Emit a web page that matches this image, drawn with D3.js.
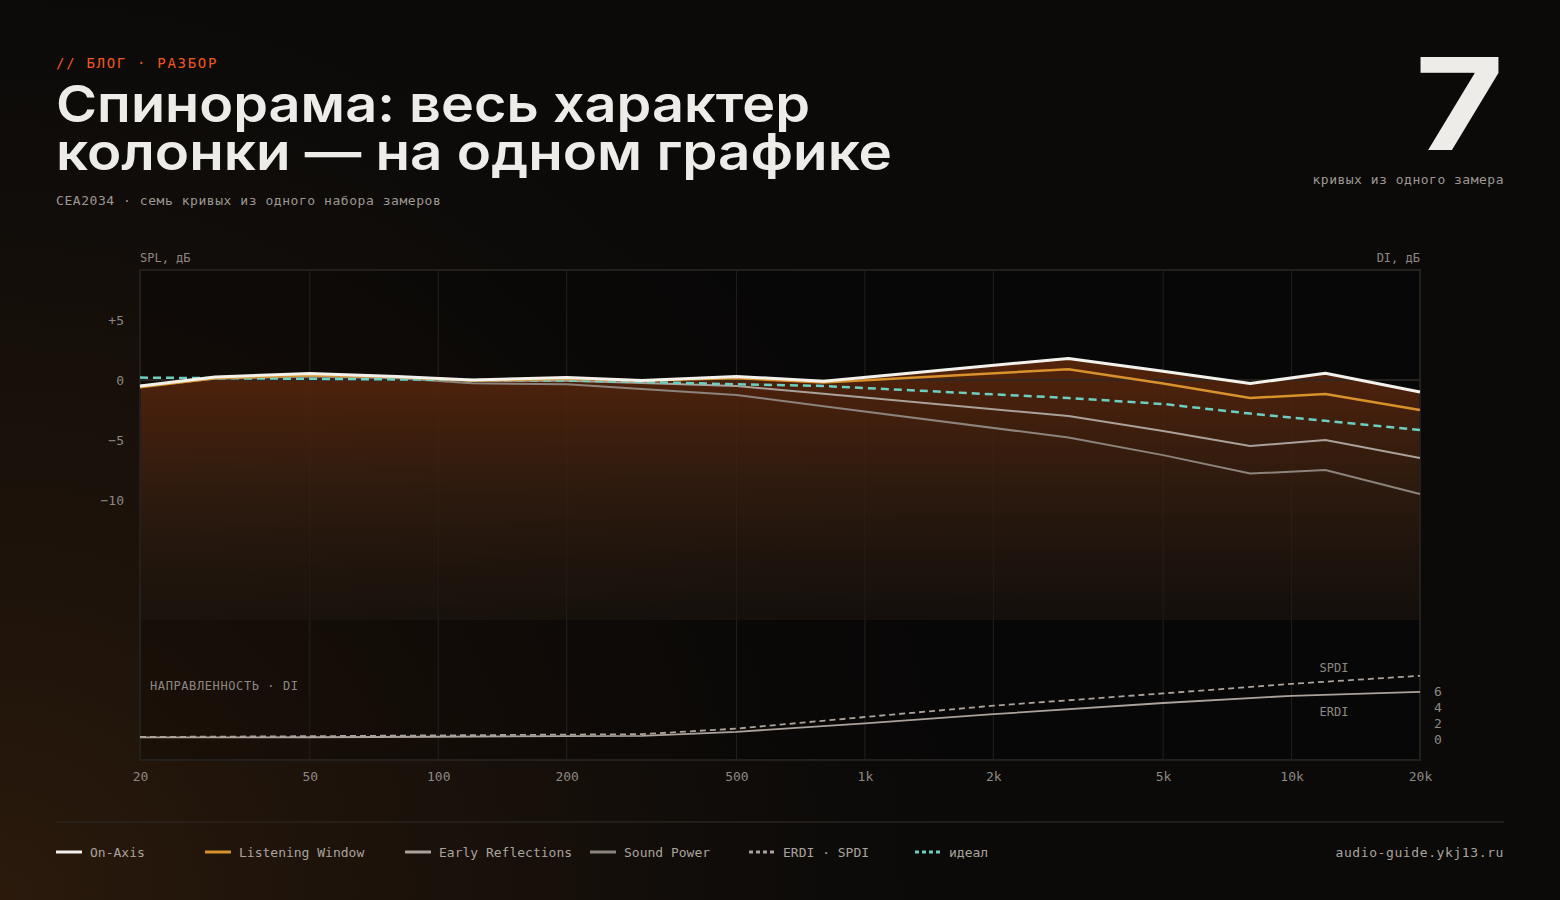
<!DOCTYPE html>
<html lang="ru">
<head>
<meta charset="UTF-8">
<title>Спинорама</title>
<script src="https://cdn.jsdelivr.net/npm/d3@7"></script>
<style>
  html, body { margin: 0; padding: 0; background: #0b0a09; }
  svg { display: block; }
  .mono { font-family: "DejaVu Sans Mono", "Liberation Mono", monospace; }
</style>
</head>
<body>
<script>
// частоты и кривые (дБ)
var freqs = [20, 30, 50, 80, 120, 200, 300, 500, 800, 3000, 5000, 8000, 12000, 20000];
var onAxis = [-0.5, 0.25, 0.55, 0.3, 0.0, 0.2, -0.05, 0.3, -0.1, 1.8, 0.72, -0.3, 0.56, -1.0];
var listeningWindow = [-0.6, 0.15, 0.4, 0.25, -0.05, 0.1, -0.05, 0.15, -0.2, 0.9, -0.3, -1.5, -1.17, -2.5];
var earlyReflections = [-0.5, 0.15, 0.35, 0.2, -0.05, -0.06, -0.25, -0.5, -1.15, -3.0, -4.25, -5.5, -5.0, -6.5];
var soundPower = [-0.55, 0.1, 0.3, 0.15, -0.28, -0.36, -0.75, -1.25, -2.18, -4.8, -6.26, -7.8, -7.5, -9.5];
var ideal = [0.2, 0.15, 0.1, 0.05, 0.0, -0.05, -0.15, -0.36, -0.5, -1.5, -2.0, -2.8, -3.4, -4.17];

var diFreqs = [20, 50, 100, 200, 300, 500, 1000, 2000, 5000, 10000, 20000];
var erdi = [0.2, 0.22, 0.28, 0.35, 0.4, 0.9, 1.96, 3.1, 4.5, 5.4, 5.9];
var spdi = [0.25, 0.35, 0.45, 0.55, 0.6, 1.3, 2.75, 4.16, 5.7, 6.9, 7.9];

var xTicks = [20, 50, 100, 200, 500, 1000, 2000, 5000, 10000, 20000];
var xTickLabels = ['20', '50', '100', '200', '500', '1k', '2k', '5k', '10k', '20k'];
var splTicks = [5, 0, -5, -10];
var diTicks = [0, 2, 4, 6];

var width = 1560, height = 900;
var svg = d3.select('body').append('svg')
    .attr('width', width)
    .attr('height', height);

var defs = svg.append('defs');
var bg = defs.append('radialGradient')
    .attr('id', 'bgGlow')
    .attr('gradientUnits', 'userSpaceOnUse')
    .attr('cx', 0).attr('cy', 900).attr('r', 1050);
bg.append('stop').attr('offset', 0).attr('stop-color', '#2b1a0c').attr('stop-opacity', 1);
bg.append('stop').attr('offset', 0.55).attr('stop-color', '#1a110a').attr('stop-opacity', 0.7);
bg.append('stop').attr('offset', 1).attr('stop-color', '#0b0a09').attr('stop-opacity', 0);

var fillGrad = defs.append('linearGradient')
    .attr('id', 'areaFill')
    .attr('gradientUnits', 'userSpaceOnUse')
    .attr('x1', 0).attr('y1', 355).attr('x2', 0).attr('y2', 620);
fillGrad.append('stop').attr('offset', 0).attr('stop-color', '#5a250b').attr('stop-opacity', 0.95);
fillGrad.append('stop').attr('offset', 0.45).attr('stop-color', '#3a2010').attr('stop-opacity', 0.8);
fillGrad.append('stop').attr('offset', 1).attr('stop-color', '#1d1610').attr('stop-opacity', 0.55);

svg.append('rect').attr('width', width).attr('height', height).attr('fill', '#0b0a09');
svg.append('rect').attr('width', width).attr('height', height).attr('fill', 'url(#bgGlow)');

// шапка
svg.append('text').attr('class', 'mono')
    .attr('x', 56).attr('y', 68)
    .attr('fill', '#f0571d').attr('font-size', 14).attr('letter-spacing', 1.7)
    .text('// БЛОГ · РАЗБОР');

var titleFont = 'Inter, "Noto Sans", sans-serif';
svg.append('text')
    .attr('x', 56).attr('y', 122)
    .attr('font-family', titleFont).attr('font-weight', 600).attr('font-size', 51)
    .attr('fill', '#edece8')
    .attr('textLength', 754).attr('lengthAdjust', 'spacingAndGlyphs')
    .text('Спинорама: весь характер');
svg.append('text')
    .attr('x', 56).attr('y', 170)
    .attr('font-family', titleFont).attr('font-weight', 600).attr('font-size', 51)
    .attr('fill', '#edece8')
    .attr('textLength', 836).attr('lengthAdjust', 'spacingAndGlyphs')
    .text('колонки — на одном графике');

svg.append('text').attr('class', 'mono')
    .attr('x', 56).attr('y', 205)
    .attr('fill', '#9d9892').attr('font-size', 13).attr('letter-spacing', 0.55)
    .text('CEA2034 · семь кривых из одного набора замеров');

svg.append('text')
    .attr('x', 1415).attr('y', 150)
    .attr('font-family', titleFont).attr('font-weight', 700).attr('font-size', 128)
    .attr('fill', '#edece8')
    .attr('textLength', 89).attr('lengthAdjust', 'spacingAndGlyphs')
    .text('7');
svg.append('text').attr('class', 'mono')
    .attr('x', 1504).attr('y', 184).attr('text-anchor', 'end')
    .attr('fill', '#9d9892').attr('font-size', 13).attr('letter-spacing', 0.5)
    .text('кривых из одного замера');

// шкалы
var pLeft = 140, pRight = 1420, pTop = 270, pBottom = 760;
var x = d3.scaleLog().domain([20, 20000]).range([pLeft, pRight]);
var y = d3.scaleLinear().domain([-20, 0]).range([620, 380]);
var yDi = d3.scaleLinear().domain([0, 6]).range([739, 691]);

var plot = svg.append('g');
plot.append('rect')
    .attr('x', pLeft).attr('y', pTop)
    .attr('width', pRight - pLeft).attr('height', pBottom - pTop)
    .attr('fill', 'rgba(0,0,0,0.22)');

// вертикальная сетка
plot.selectAll('.vgrid')
    .data(xTicks.slice(1, -1))
    .enter().append('line')
    .attr('class', 'vgrid')
    .attr('x1', function (d) { return x(d); })
    .attr('x2', function (d) { return x(d); })
    .attr('y1', pTop).attr('y2', pBottom)
    .attr('stroke', '#24201d').attr('stroke-width', 1);

// заливка под осевой АЧХ
var area = d3.area()
    .x(function (d) { return x(d[0]); })
    .y0(y(-20))
    .y1(function (d) { return y(d[1]); });
plot.append('path')
    .datum(d3.zip(freqs, onAxis))
    .attr('d', area)
    .attr('fill', 'url(#areaFill)');

// линия 0 дБ
plot.append('line')
    .attr('x1', pLeft).attr('x2', pRight)
    .attr('y1', y(0)).attr('y2', y(0))
    .attr('stroke', '#2e2a26').attr('stroke-width', 1.5);

// рамка
plot.append('rect')
    .attr('x', pLeft).attr('y', pTop)
    .attr('width', pRight - pLeft).attr('height', pBottom - pTop)
    .attr('fill', 'none').attr('stroke', '#221f1c').attr('stroke-width', 2);

var line = d3.line()
    .x(function (d) { return x(d[0]); })
    .y(function (d) { return y(d[1]); });
var diLine = d3.line()
    .x(function (d) { return x(d[0]); })
    .y(function (d) { return yDi(d[1]); });

var curves = [
    {values: soundPower, color: '#8c837c', w: 2, dash: null},
    {values: earlyReflections, color: '#a9a19a', w: 2, dash: null},
    {values: ideal, color: '#6ccfc0', w: 2.5, dash: '8,5'},
    {values: listeningWindow, color: '#d8922c', w: 2.5, dash: null},
    {values: onAxis, color: '#f3f1ec', w: 3, dash: null}
];
plot.selectAll('.curve')
    .data(curves)
    .enter().append('path')
    .attr('class', 'curve')
    .attr('d', function (d) { return line(d3.zip(freqs, d.values)); })
    .attr('fill', 'none')
    .attr('stroke', function (d) { return d.color; })
    .attr('stroke-width', function (d) { return d.w; })
    .attr('stroke-dasharray', function (d) { return d.dash; })
    .attr('stroke-linejoin', 'round');

// индексы направленности
plot.append('path')
    .attr('d', diLine(d3.zip(diFreqs, erdi)))
    .attr('fill', 'none').attr('stroke', '#aaa29b').attr('stroke-width', 1.8);
plot.append('path')
    .attr('d', diLine(d3.zip(diFreqs, spdi)))
    .attr('fill', 'none').attr('stroke', '#aaa29b').attr('stroke-width', 1.8)
    .attr('stroke-dasharray', '6,4');

// оси
var axisText = function (g) {
    g.select('.domain').remove();
    g.selectAll('.tick line').remove();
    g.selectAll('.tick text')
        .attr('fill', '#8d8882')
        .attr('font-family', '"DejaVu Sans Mono", monospace')
        .attr('font-size', 13);
};

svg.append('g')
    .attr('transform', 'translate(0,' + pBottom + ')')
    .call(d3.axisBottom(x).tickValues(xTicks).tickSize(0).tickPadding(12)
        .tickFormat(function (d, i) { return xTickLabels[i]; }))
    .call(axisText);

svg.append('g')
    .attr('transform', 'translate(' + pLeft + ',0)')
    .call(d3.axisLeft(y).tickValues(splTicks).tickSize(0).tickPadding(16)
        .tickFormat(function (d) { return d > 0 ? '+' + d : (d < 0 ? '\u2212' + Math.abs(d) : '0'); }))
    .call(axisText);

svg.append('g')
    .attr('transform', 'translate(' + pRight + ',0)')
    .call(d3.axisRight(yDi).tickValues(diTicks).tickSize(0).tickPadding(14)
        .tickFormat(d3.format('d')))
    .call(axisText);

svg.append('text').attr('class', 'mono')
    .attr('x', pLeft).attr('y', 262)
    .attr('fill', '#8d8882').attr('font-size', 12)
    .text('SPL, дБ');
svg.append('text').attr('class', 'mono')
    .attr('x', pRight).attr('y', 262).attr('text-anchor', 'end')
    .attr('fill', '#8d8882').attr('font-size', 12)
    .text('DI, дБ');
svg.append('text').attr('class', 'mono')
    .attr('x', 150).attr('y', 690)
    .attr('fill', '#8d8882').attr('font-size', 12).attr('letter-spacing', 0.6)
    .text('НАПРАВЛЕННОСТЬ · DI');
svg.append('text').attr('class', 'mono')
    .attr('x', 1334).attr('y', 672).attr('text-anchor', 'middle')
    .attr('fill', '#8d8882').attr('font-size', 12)
    .text('SPDI');
svg.append('text').attr('class', 'mono')
    .attr('x', 1334).attr('y', 716).attr('text-anchor', 'middle')
    .attr('fill', '#8d8882').attr('font-size', 12)
    .text('ERDI');

// легенда
svg.append('line')
    .attr('x1', 56).attr('x2', 1504).attr('y1', 822).attr('y2', 822)
    .attr('stroke', '#2a231e').attr('stroke-width', 1.5);

var legend = [
    {label: 'On-Axis', x: 56, color: '#f3f1ec', dash: null},
    {label: 'Listening Window', x: 205, color: '#d8922c', dash: null},
    {label: 'Early Reflections', x: 405, color: '#a9a19a', dash: null},
    {label: 'Sound Power', x: 590, color: '#8c837c', dash: null},
    {label: 'ERDI · SPDI', x: 749, color: '#aaa29b', dash: '4,3'},
    {label: 'идеал', x: 915, color: '#6ccfc0', dash: '4,3'}
];
var items = svg.selectAll('.legend')
    .data(legend)
    .enter().append('g')
    .attr('class', 'legend')
    .attr('transform', function (d) { return 'translate(' + d.x + ',852)'; });
items.append('line')
    .attr('x1', 0).attr('x2', 26).attr('y1', 0).attr('y2', 0)
    .attr('stroke', function (d) { return d.color; })
    .attr('stroke-width', 3)
    .attr('stroke-dasharray', function (d) { return d.dash; });
items.append('text').attr('class', 'mono')
    .attr('x', 34).attr('y', 5)
    .attr('fill', '#a9a39c').attr('font-size', 13)
    .text(function (d) { return d.label; });

svg.append('text').attr('class', 'mono')
    .attr('x', 1504).attr('y', 857).attr('text-anchor', 'end')
    .attr('fill', '#a9a39c').attr('font-size', 13).attr('letter-spacing', 0.6)
    .text('audio-guide.ykj13.ru');
</script>
</body>
</html>
